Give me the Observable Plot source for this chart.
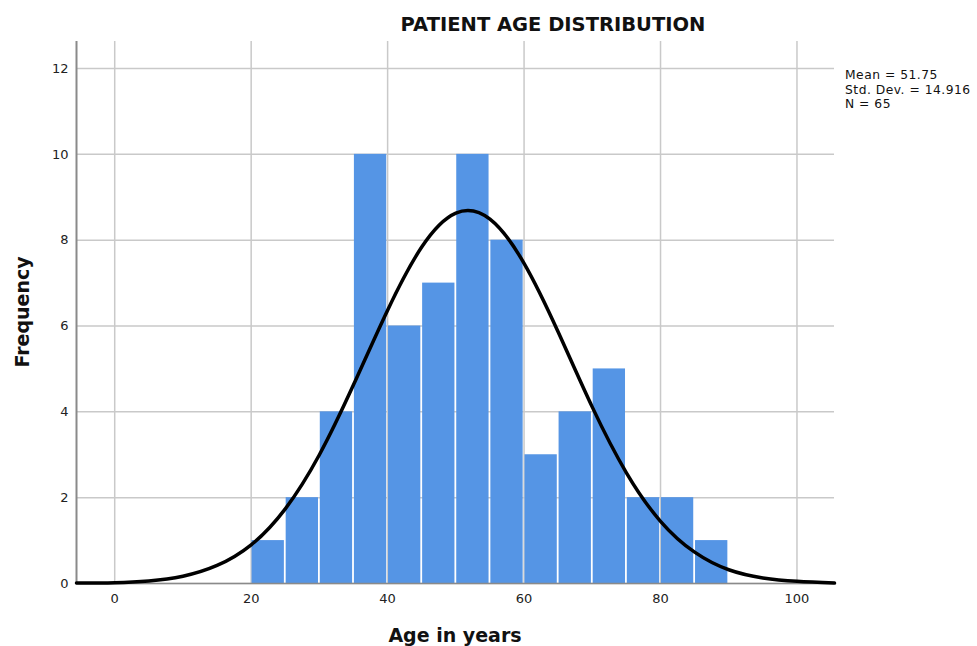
<!DOCTYPE html>
<html>
<head>
<meta charset="utf-8">
<script src="https://cdn.jsdelivr.net/npm/d3@7"></script>
<script src="https://cdn.jsdelivr.net/npm/@observablehq/plot@0.6"></script>
<style>
  html, body { margin: 0; padding: 0; background: #fff; }
  #wrap { position: relative; width: 977px; height: 646px; overflow: hidden; font-family: "DejaVu Sans", sans-serif; }
  #wrap svg { position: absolute; left: 0; top: 0; }
  .title { position: absolute; left: 553px; top: 13px; transform: translateX(-50%); font-weight: bold; font-size: 19.5px; color: #111; white-space: nowrap; }
  .stats { position: absolute; left: 845px; top: 68px; font-size: 12.3px; line-height: 14.5px; letter-spacing: 0.5px; color: #111; white-space: nowrap; }
  .xlab { position: absolute; left: 455px; top: 624px; transform: translateX(-50%); font-weight: bold; font-size: 19px; color: #111; white-space: nowrap; }
  .ylab { position: absolute; left: 22px; top: 312px; transform: translate(-50%, -50%) rotate(-90deg); font-weight: bold; font-size: 19px; color: #111; white-space: nowrap; }
</style>
</head>
<body>
<div id="wrap"></div>
<script>
// Histogram bins (age, 5-year wide) and counts
const binStart = [20, 25, 30, 35, 40, 45, 50, 55, 60, 65, 70, 75, 80, 85];
const binEnd   = [25, 30, 35, 40, 45, 50, 55, 60, 65, 70, 75, 80, 85, 90];
const counts   = [1, 2, 4, 10, 6, 7, 10, 8, 3, 4, 5, 2, 2, 1];

// Normal curve points
const curveX = [-5.6, 0, 5, 10, 15, 20, 25, 30, 35, 40, 45, 50, 55, 60, 65, 70, 75, 80, 85, 90, 95, 100, 105.5];
const curveY = [0.01, 0.02, 0.06, 0.17, 0.42, 0.9, 1.74, 3.0, 4.63, 6.37, 7.84, 8.63, 8.49, 7.46, 5.86, 4.11, 2.58, 1.45, 0.73, 0.32, 0.13, 0.05, 0.01];

// Tick labels
const xTicks = [0, 20, 40, 60, 80, 100];
const yTicks = [0, 2, 4, 6, 8, 10, 12];

const statsLines = ["Mean = 51.75", "Std. Dev. = 14.916", "N = 65"];
const titleText = "PATIENT AGE DISTRIBUTION";
const xLabel = "Age in years";
const yLabel = "Frequency";

const bins = binStart.map((s, i) => ({x1: s, x2: binEnd[i], y: counts[i]}));
const curve = curveX.map((x, i) => ({x, y: curveY[i]}));

const plot = Plot.plot({
  width: 977,
  height: 646,
  marginLeft: 76,
  marginRight: 143,
  marginTop: 41,
  marginBottom: 63,
  style: {fontFamily: "DejaVu Sans, sans-serif", fontSize: "13px", color: "#222", background: "white"},
  x: {domain: [-5.6, 105.5], ticks: xTicks, label: null, tickSize: 0, tickPadding: 10},
  y: {domain: [0, 12.63], ticks: yTicks, label: null, tickSize: 0, tickPadding: 8},
  marks: [
    Plot.gridX(xTicks, {stroke: "#c9c9c9", strokeOpacity: 1, strokeWidth: 1.5}),
    Plot.gridY(yTicks, {stroke: "#c9c9c9", strokeOpacity: 1, strokeWidth: 1.5}),
    Plot.rectY(bins, {x1: "x1", x2: "x2", y: "y", fill: "#5595e5", insetLeft: 0.9, insetRight: 0.9}),
    Plot.ruleY([0], {stroke: "#8a8a8a", strokeWidth: 1.5}),
    Plot.ruleX([-5.6], {stroke: "#8a8a8a", strokeWidth: 2}),
    Plot.axisX({ticks: xTicks, tickSize: 0, tickPadding: 10, label: null}),
    Plot.axisY({ticks: yTicks, tickSize: 0, tickPadding: 8, label: null}),
    Plot.line(curve, {x: "x", y: "y", stroke: "black", strokeWidth: 3.5, curve: "natural"})
  ]
});

const wrap = document.getElementById("wrap");
wrap.appendChild(plot);

const t = document.createElement("div"); t.className = "title"; t.textContent = titleText; wrap.appendChild(t);
const s = document.createElement("div"); s.className = "stats";
statsLines.forEach(l => { const d = document.createElement("div"); d.textContent = l; s.appendChild(d); });
wrap.appendChild(s);
const xl = document.createElement("div"); xl.className = "xlab"; xl.textContent = xLabel; wrap.appendChild(xl);
const yl = document.createElement("div"); yl.className = "ylab"; yl.textContent = yLabel; wrap.appendChild(yl);
</script>
</body>
</html>
